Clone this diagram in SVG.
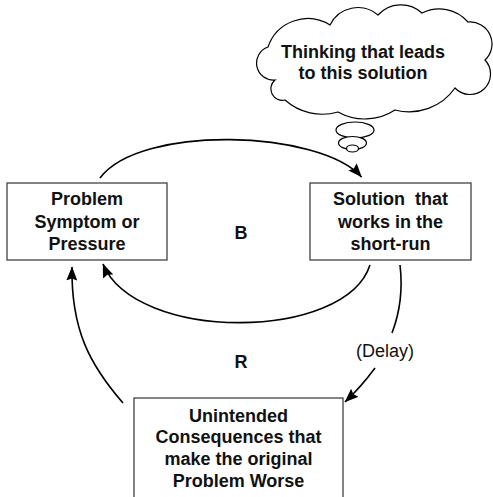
<svg xmlns="http://www.w3.org/2000/svg" width="493" height="497" viewBox="0 0 493 497">
<style>
.box{fill:#fff;stroke:#333;stroke-width:1.2}
.lbl{font-family:"Liberation Sans",Arial,Helvetica,sans-serif;font-size:18px;font-weight:bold;fill:#111;text-anchor:middle}
.plain{font-family:"Liberation Sans",Arial,Helvetica,sans-serif;font-size:18px;fill:#111;text-anchor:middle}
.arc{fill:none;stroke:#000;stroke-width:1.6}
.cloud{fill:#fff;stroke:#000;stroke-width:1.2}
</style>
<defs>
<marker id="ah" markerUnits="userSpaceOnUse" markerWidth="14" markerHeight="11" refX="13.5" refY="5.5" orient="auto">
<path d="M0,0 L14,5.5 L0,11 L2,5.5 z" fill="#000"/>
</marker>
</defs>
<rect width="493" height="497" fill="#fff"/>
<g id="cloud">
<path class="cloud" d="M268,47 A42,42 0 0 1 330,25 A31,31 0 0 1 378,15 A31,31 0 0 1 422,13 A38,38 0 0 1 468,22 A22,22 0 0 1 485,60 A20.5,20.5 0 0 1 455,88 A56,56 0 0 1 395,110 A55,55 0 0 1 338,112 A56,56 0 0 1 285,100 A11.5,11.5 0 0 1 275,80 A17,17 0 0 1 268,47 Z"/>
<ellipse class="cloud" cx="355" cy="130" rx="19" ry="8"/>
<ellipse class="cloud" cx="352.5" cy="143" rx="14" ry="6.5"/>
<ellipse class="cloud" cx="352.5" cy="148.5" rx="6" ry="3.5"/>
<text class="lbl" x="363" y="58">Thinking that leads</text>
<text class="lbl" x="363" y="79">to this solution</text>
</g>
<g id="connectors">
<path class="arc" d="M100,178 C140,124 320,130 361.5,177" marker-end="url(#ah)"/>
<path class="arc" d="M370,265 C345,342 135,342 103,264" marker-end="url(#ah)"/>
<path class="arc" d="M400,265 C403,290 400,312 392,333"/>
<path class="arc" d="M375,368 Q361,387 345,402" marker-end="url(#ah)"/>
<path class="arc" d="M123,403 C90,365 71,330 72,267" marker-end="url(#ah)"/>
<text class="plain" x="385" y="357">(Delay)</text>
<text class="lbl" x="241" y="239">B</text>
<text class="lbl" x="241" y="368">R</text>
</g>
<g id="problem">
<rect class="box" x="7" y="183" width="160" height="77"/>
<text class="lbl" x="87" y="205">Problem</text>
<text class="lbl" x="87" y="227.5">Symptom or</text>
<text class="lbl" x="87" y="250">Pressure</text>
</g>
<g id="solution">
<rect class="box" x="310" y="183" width="161" height="77"/>
<text class="lbl" x="390.5" y="205" xml:space="preserve">Solution  that</text>
<text class="lbl" x="390.5" y="227.5">works in the</text>
<text class="lbl" x="390.5" y="250">short-run</text>
</g>
<g id="consequences">
<rect class="box" x="134" y="398" width="209" height="110"/>
<text class="lbl" x="238.5" y="421.5">Unintended</text>
<text class="lbl" x="238.5" y="443.3">Consequences that</text>
<text class="lbl" x="238.5" y="465">make the original</text>
<text class="lbl" x="238.5" y="487">Problem Worse</text>
</g>
</svg>
